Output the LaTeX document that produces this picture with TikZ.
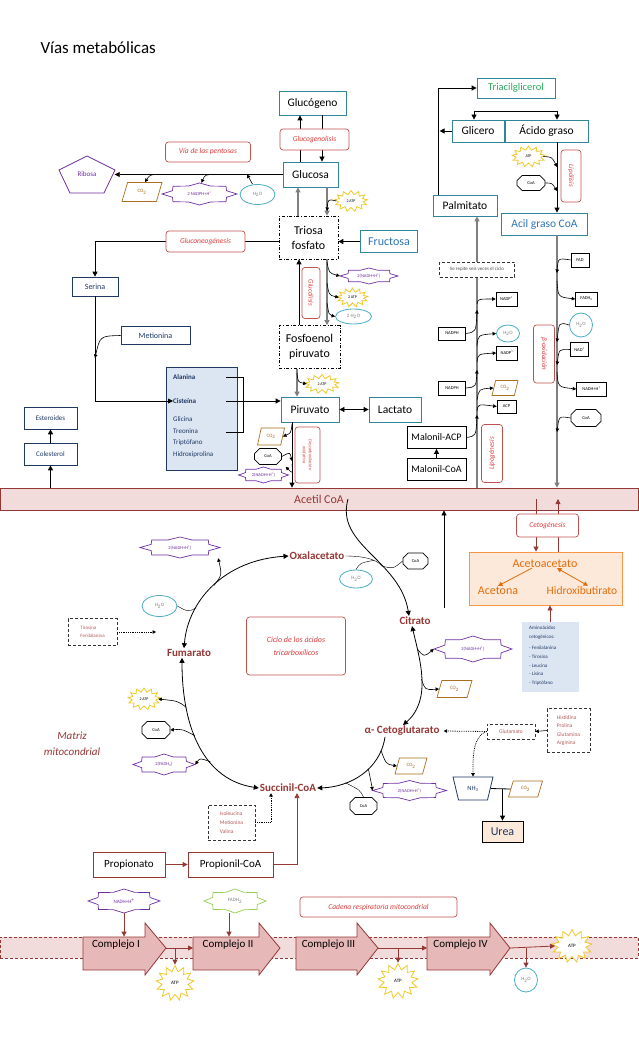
\documentclass[tikz,border=0pt]{standalone}
\usepackage{fontspec}
\setmainfont{Carlito}
\usetikzlibrary{shapes.geometric,shapes.misc,shapes.symbols,arrows.meta,calc}

\definecolor{teal1}{RGB}{49,133,155}
\definecolor{dred}{RGB}{149,55,53}
\definecolor{lred}{RGB}{222,60,60}
\definecolor{lbord}{RGB}{192,80,77}
\definecolor{purp}{RGB}{112,48,160}
\definecolor{cyan1}{RGB}{75,172,198}
\definecolor{brown1}{RGB}{170,110,30}
\definecolor{gold1}{RGB}{240,200,40}
\definecolor{navy1}{RGB}{31,56,100}
\definecolor{blue1}{RGB}{46,117,182}
\definecolor{green1}{RGB}{40,170,90}
\definecolor{lblue}{RGB}{220,230,242}
\definecolor{pink1}{RGB}{242,220,219}
\definecolor{cpx}{RGB}{230,185,184}
\definecolor{orng}{RGB}{247,150,70}
\definecolor{orngt}{RGB}{228,108,10}
\definecolor{peach}{RGB}{253,233,217}
\definecolor{gray1}{RGB}{127,127,127}
\definecolor{lgreen}{RGB}{146,208,80}
\definecolor{ptxt}{RGB}{180,90,90}

\newcommand\fsz[1]{\fontsize{#1}{#1}\selectfont}
\newcommand\seal[4]{\draw[#4, line width=0.7pt] ($(#1)+(#2,0)$)
  \foreach \k in {1,...,15}{ -- ($(#1)+({#2*cos(\k*22.5)*(1-0.22*mod(\k,2))},{#3*sin(\k*22.5)*(1-0.22*mod(\k,2))})$)} -- cycle;}

\tikzset{
  box/.style={draw=teal1, line width=0.8pt, inner sep=0pt, font=\fsz{11.5}},
  bbox/.style={draw=dred, line width=0.8pt, inner sep=0pt, font=\fsz{10}},
  dbox/.style={draw=black, dash dot, line width=0.7pt, align=center, inner sep=0pt, font=\fontsize{12}{15}\selectfont},
  nbox/.style={draw=navy1, line width=0.7pt, text=navy1, inner sep=0pt, font=\fsz{8}},
  lab/.style={draw=lbord, rounded corners=3pt, line width=0.7pt, fill=white, text=lred, font=\fsz{7.5}\itshape, inner sep=0pt, align=center},
  tbox/.style={draw, line width=0.6pt, inner sep=0pt, font=\fsz{4.5}},
  co2/.style={trapezium, trapezium left angle=70, trapezium right angle=110, trapezium stretches=true, draw=brown1, fill=white, text=brown1, line width=0.7pt, font=\fsz{5}, inner sep=0pt},
  wat/.style={ellipse, draw=cyan1, fill=white, line width=0.8pt, text=gray1, font=\fsz{5}, inner sep=0pt},
  coa/.style={chamfered rectangle, chamfered rectangle xsep=4pt, chamfered rectangle ysep=4pt, draw, fill=white, line width=0.7pt, font=\fsz{4.5}, inner sep=0pt},
  atp/.style={starburst, starburst points=13, starburst point height=4pt, random starburst=0, draw=gold1, fill=white, line width=0.8pt, font=\fsz{4}, inner sep=0pt},
  sealtxt/.style={inner sep=0pt, font=\fsz{4.5}, text=purp},
  tca/.style={text=dred, font=\fsz{11}\bfseries, inner sep=1pt},
  dashbox/.style={draw=black!80, densely dashed, line width=0.5pt, text=ptxt, font=\fsz{5.5}, align=left, inner sep=0pt},
  cplx/.style={draw=dred, fill=cpx, line width=0.8pt},
  arr/.style={line width=0.8pt, -{Triangle[length=5pt,width=5pt]}},
  arr2/.style={line width=0.8pt, {Triangle[length=5pt,width=5pt]}-{Triangle[length=5pt,width=5pt]}},
  garr/.style={draw=gray1, line width=1.6pt, -{Triangle[length=5pt,width=5pt]}},
  sarr/.style={line width=0.6pt, -{Triangle[length=3.5pt,width=3.5pt]}},
  dotarr/.style={densely dotted, line width=0.8pt, -{Triangle[length=3.5pt,width=3.5pt]}},
  rarr/.style={draw=dred, line width=0.8pt, -{Triangle[length=5pt,width=5pt]}},
  oarr/.style={draw=orngt, line width=0.8pt, -{Triangle[length=4.5pt,width=4.5pt]}},
  oarr2/.style={draw=orngt, line width=0.8pt, {Triangle[length=4.5pt,width=4.5pt]}-{Triangle[length=4.5pt,width=4.5pt]}}
}

\begin{document}
\begin{tikzpicture}[x=1pt,y=-1pt]
\useasboundingbox[fill=white] (0,0) rectangle (638,1051);

\node[anchor=west, font=\fsz{17}] (title) at (37,48) {Vías metabólicas};

\foreach \n/\x/\y in {p1/162/174.5, p2/218/174.5, p3/247/174.5, q1/327/211, g1/327/262, g2/327/283, g3/327/303,
  g4/297/373, g5/292/424, g6/292/461, g7/292/464, m1/95/358, l1/557/167, l2/557/191,
  b1/557/273, b2/557/281, b3/557/342, b4/557/365, b5/557/372, b6/557/432,
  k1/477/415, k2/477/411, k3/477/370, k4/477/362, k5/477/346, k6/477/310, k7/477/304, k8/477/400,
  tf/156/632, cu/444/608}
  \coordinate (\n) at (\x,\y);

\node[draw=dred, fill=pink1, line width=0.8pt, minimum width=638pt, minimum height=22pt, inner sep=0pt, text=dred, font=\fsz{12}] (acoa) at (319,499) {Acetil CoA};

\node[box, minimum width=67pt, minimum height=24pt] (glucogeno) at (312.5,103) {Glucógeno};
\node[box, minimum width=55pt, minimum height=25pt] (glucosa) at (310.5,174.5) {Glucosa};
\node[dbox, minimum width=59pt, minimum height=43pt] (triosa) at (308.5,237.5) {Triosa\\fosfato};
\node[box, minimum width=57pt, minimum height=22pt, text=blue1, font=\fsz{12}] (fructosa) at (389,241.5) {Fructosa};
\node[dbox, minimum width=61pt, minimum height=43pt] (fosfo) at (309.5,347) {Fosfoenol\\piruvato};
\node[box, minimum width=58pt, minimum height=25pt] (piruvato) at (310,409.5) {Piruvato};
\node[box, minimum width=52pt, minimum height=25pt] (lactato) at (395,409.5) {Lactato};

\draw[arr] ([xshift=-10.5pt]glucosa.north) -- ([xshift=-10.5pt]glucosa.north |- glucogeno.south);
\draw[arr] ([xshift=9.5pt]glucogeno.south) -- ([xshift=9.5pt]glucogeno.south |- glucosa.north);
\node[lab, minimum width=69pt, minimum height=21pt] (glgl) at (314.5,139.5) {Glucogenolisis};

\node[font=\fsz{7}, text=purp, minimum width=55pt, inner sep=0pt] (ribosa) at (87,174.5) {Ribosa};
\draw[purp, line width=0.8pt] (87,156) -- (115,170) -- (104,193) -- (70,193) -- (59,170) -- cycle;
\draw[arr] (glucosa.west) -- (ribosa.east);
\node[lab, minimum width=85pt, minimum height=20pt] (pentosas) at (208,152) {Vía de las pentosas};
\node[co2, minimum width=40pt, minimum height=19pt] (co2a) at (142,192) {CO\textsubscript{2}};
\node[sealtxt, minimum width=75pt, minimum height=22pt] (nadpha) at (199.5,194) {2 NADPH+H\textsuperscript{+}};
\seal{nadpha}{37.5}{11}{purp}
\node[wat, minimum width=35pt, minimum height=20pt] (h2oa) at (257.5,194.5) {H\textsubscript{2}O};
\draw[sarr] (p1) .. controls (150,174.5) .. ([xshift=3pt]co2a.north);
\draw[sarr] (p2) .. controls (205,174.5) .. ([xshift=2pt]nadpha.north);
\draw[sarr] ([xshift=-5pt]h2oa.north) .. controls (251,181) .. (p3);

\draw[garr] ([xshift=16.5pt]glucosa.south) -- ([xshift=16.5pt]glucosa.south |- triosa.north);
\draw[garr] ([xshift=-10.5pt]triosa.north) -- ([xshift=-10.5pt]triosa.north |- glucosa.south);
\node[atp, minimum width=33pt, minimum height=21pt] (atpa) at (351,201) {2 ATP};
\draw[sarr] (atpa.west) .. controls (328,199) .. (q1);
\draw[arr] (fructosa.west) -- (fructosa.west -| triosa.east);

\node[nbox, minimum width=46pt, minimum height=19pt] (serina) at (95,286.5) {Serina};
\draw[arr] (triosa.west |- fructosa.west) -| (serina.north);
\node[lab, minimum width=79pt, minimum height=21pt] (gng) at (205.5,241.5) {Gluconeogénesis};
\node[nbox, minimum width=69pt, minimum height=18pt] (metionina) at (155.5,335.5) {Metionina};
\draw[sarr] (metionina.west) .. controls (100,336) .. (m1);

\node[draw=navy1, fill=lblue, line width=0.7pt, minimum width=71pt, minimum height=103pt] (aabox) at (201.5,418.5) {};
\begin{scope}[every node/.style={anchor=west, text=navy1, font=\fsz{7}, inner sep=0pt}]
\node[font=\fsz{7}\bfseries] (alan) at (173,377) {Alanina};
\node[font=\fsz{7}\bfseries] (cist) at (173,401) {Cisteína};
\node (glic) at (173,419) {Glicina};
\node (treo) at (173,431) {Treonina};
\node (trip) at (173,443) {Triptófano};
\node (hidr) at (173,455) {Hidroxiprolina};
\end{scope}
\draw[arr] (serina.south) |- (cist.west);
\draw[line width=0.8pt] (226,377) -- (243,377) -- (243,432) -- (226,432);
\draw[arr] (226,401) -- (piruvato.west |- cist);

\draw[arr] ([xshift=-10.5pt]fosfo.north) -- ([xshift=-10.5pt]fosfo.north |- triosa.south);
\draw[garr] ([xshift=18.5pt]triosa.south) -- ([xshift=18.5pt]triosa.south |- fosfo.north);
\node[lab, rotate=-90, minimum width=51pt, minimum height=18pt, font=\fsz{7}\itshape] (glc) at (311,293) {Glucólisis};
\node[sealtxt, minimum width=58pt, minimum height=16pt] (nadhb) at (369,276) {2(NADH+H\textsuperscript{+})};
\seal{nadhb}{29}{8}{purp}
\node[atp, minimum width=31pt, minimum height=19pt] (atpb) at (352.5,297.5) {2 ATP};
\node[wat, minimum width=36pt, minimum height=15pt] (h2ob) at (353.5,316.5) {2 H\textsubscript{2}O};
\draw[sarr] (g1) .. controls (329,273) .. (nadhb.west);
\draw[sarr] (g2) .. controls (329,295) .. (atpb.west);
\draw[sarr] (g3) .. controls (329,315) .. (h2ob.west);

\draw[garr] ([xshift=-12.5pt]fosfo.south) -- ([xshift=-12.5pt]fosfo.south |- piruvato.north);
\node[atp, minimum width=34pt, minimum height=19pt] (atpc) at (322,384) {2 ATP};
\draw[sarr] (g4) .. controls (298,382) .. (atpc.west);
\draw[arr2] (piruvato.east) -- (lactato.west);

\draw[arr] ([xshift=-18pt]piruvato.south) -- ([xshift=-18pt]piruvato.south |- acoa.north);
\node[co2, minimum width=27pt, minimum height=17pt] (co2b) at (271,436.5) {CO\textsubscript{2}};
\node[coa, minimum width=27pt, minimum height=16pt] (coab) at (268,456.5) {CoA};
\node[sealtxt, minimum width=50pt, minimum height=16pt] (nadhc) at (263.5,475) {2(NADH+H\textsuperscript{+})};
\seal{nadhc}{25}{8}{purp}
\draw[sarr] (g5) .. controls (291,433) .. (co2b.east);
\draw[sarr] (coab.east) .. controls (290,452) .. (g6);
\draw[sarr] (g7) .. controls (293,474) .. ([xshift=-3pt]nadhc.north east);
\node[lab, rotate=-90, minimum width=56pt, minimum height=25pt, font=\fontsize{4.5}{6}\selectfont\itshape] (desc) at (307.5,455) {Descarboxilación\\oxidativa};

\node[nbox, minimum width=53pt, minimum height=22pt, font=\fsz{7}] (esteroides) at (50.5,418) {Esteroides};
\node[nbox, minimum width=53pt, minimum height=22pt, font=\fsz{7}] (colesterol) at (50.5,454) {Colesterol};
\draw[arr] (colesterol.north) -- (esteroides.south);
\draw[arr] (colesterol.south |- acoa.north) -- (colesterol.south);

\node[box, minimum width=78pt, minimum height=20pt, text=green1, font=\fsz{10.5}] (tag) at (516,88) {Triacilglicerol};
\node[box, minimum width=52pt, minimum height=22pt] (glicero) at (478,131) {Glicero};
\node[box, minimum width=83pt, minimum height=22pt] (acido) at (546.5,131) {Ácido graso};
\node[box, minimum width=64pt, minimum height=21pt] (palm) at (465,205.5) {Palmitato};
\draw[arr] (tag.south) ++(0,13) -| ([xshift=-4pt]glicero.north);
\draw[arr] (tag.south) ++(0,13) -| ([xshift=10.5pt]acido.north);
\draw[arr] ([xshift=-27pt]palm.north) |- (tag.west);
\draw[arr] (glicero.west) -- ([xshift=-12pt]glicero.west);

\node[box, minimum width=86pt, minimum height=22pt, text=blue1] (acil) at (544.5,224) {Acil graso CoA};
\draw[arr] ([xshift=10.5pt]acido.south) -- ([xshift=10.5pt]acido.south |- acil.north);
\node[atp, minimum width=33pt, minimum height=21pt] (atpd) at (528.5,156.5) {ATP};
\node[coa, minimum width=28pt, minimum height=15pt] (coad) at (531,183) {CoA};
\draw[sarr] (atpd.east) .. controls (552,157) .. (l1);
\draw[sarr] (coad.east) .. controls (552,183) .. (l2);
\node[lab, rotate=-90, minimum width=52pt, minimum height=20pt, font=\fsz{7}\itshape] (lipol) at (571,176) {Lipólisis};

\draw[garr] ([xshift=12.5pt]acil.south) -- ([xshift=12.5pt]acil.south |- acoa.north);
\node[tbox, minimum width=18pt, minimum height=14pt] (fad) at (580,260) {FAD};
\node[tbox, minimum width=22pt, minimum height=14pt] (fadh) at (586.5,299) {FADH\textsubscript{2}};
\node[wat, minimum width=23pt, minimum height=24pt] (h2oc) at (581,325) {H\textsubscript{2}O};
\node[tbox, minimum width=18pt, minimum height=14pt] (nad) at (579.5,349.5) {NAD\textsuperscript{+}};
\node[tbox, minimum width=30pt, minimum height=14pt] (nadhd) at (591.5,389) {NADH+H\textsuperscript{+}};
\node[coa, minimum width=30pt, minimum height=17pt] (coae) at (586,418) {CoA};
\draw[sarr] (fad.west) .. controls (558,258) .. (b1);
\draw[sarr] (b2) .. controls (558,297) .. (fadh.west);
\draw[sarr] (h2oc.west) .. controls (559,322) .. (b3);
\draw[sarr] (nad.west) .. controls (559,349) .. (b4);
\draw[sarr] (b5) .. controls (558,387) .. (nadhd.west);
\draw[sarr] (coae.west) .. controls (559,416) .. (b6);
\node[lab, rotate=-90, minimum width=58pt, minimum height=21pt, font=\fsz{7}\itshape] (betaox) at (544,354) {β-oxidación};

\draw[garr] ([xshift=12pt]palm.south |- acoa.north) -- ([xshift=12pt]palm.south);
\node[dashbox, fill=white, text=black!70, minimum width=75pt, minimum height=15pt, font=\fsz{5}] (repite) at (477,269.5) {Se repite seis veces el ciclo};
\node[tbox, minimum width=21pt, minimum height=14pt] (nadp1) at (506.5,299) {NADP\textsuperscript{+}};
\node[tbox, minimum width=27pt, minimum height=13pt] (nadph1) at (452,333.5) {NADPH};
\node[wat, minimum width=23pt, minimum height=17pt] (h2od) at (508,333.5) {H\textsubscript{2}O};
\node[tbox, minimum width=21pt, minimum height=14pt] (nadp2) at (507,353) {NADP\textsuperscript{+}};
\node[tbox, minimum width=27pt, minimum height=14pt] (nadph2) at (452,388) {NADPH};
\node[co2, minimum width=26pt, minimum height=15pt] (co2c) at (505,388) {CO\textsubscript{2}};
\node[tbox, minimum width=19pt, minimum height=13pt] (acp) at (506.5,406.5) {ACP};
\node[bbox, draw=black, minimum width=59pt, minimum height=22pt] (macp) at (436.5,437.5) {Malonil-ACP};
\node[bbox, draw=black, minimum width=59pt, minimum height=22pt] (mcoa) at (436.5,469.5) {Malonil-CoA};
\draw[arr] (mcoa.north) -- (macp.south);
\draw[sarr] (macp.east) .. controls (476,436) .. (k1);
\draw[sarr] (k2) .. controls (478,404) .. (acp.west);
\draw[sarr] (k8) .. controls (479,389) .. (co2c.west);
\draw[sarr] (nadph2.east) .. controls (476,387) .. (k3);
\draw[sarr] (k4) .. controls (478,354) .. (nadp2.west);
\draw[sarr] (k5) .. controls (478,335) .. (h2od.west);
\draw[sarr] (nadph1.east) .. controls (476,332) .. (k6);
\draw[sarr] (k7) .. controls (478,299) .. (nadp1.west);
\node[lab, rotate=90, minimum width=58pt, minimum height=21pt, font=\fsz{7}\itshape] (lipog) at (492,453.5) {Lipogénesis};

\node[sealtxt, minimum width=80pt, minimum height=21pt] (nadhe) at (180,547.5) {2(NADH+H\textsuperscript{+})};
\seal{nadhe}{40}{10.5}{purp}
\node[tca] (oxa) at (317,556) {Oxalacetato};
\node[tca] (fum) at (189,653) {Fumarato};
\node[tca] (cit) at (415,621) {Citrato};
\node[tca] (akg) at (402,731) {α- Cetoglutarato};
\node[tca] (suc) at (288,788) {Succinil-CoA};
\node[wat, minimum width=35pt, minimum height=21pt] (h2oe) at (159.5,606) {H\textsubscript{2}O};
\node[dashbox, minimum width=49pt, minimum height=27pt, font=\fontsize{5}{8}\selectfont] (tirfen) at (92.5,632) {Tirosina\\Fenilalanina};
\draw[dotarr] (tirfen.east) -- (tf);
\node[lab, minimum width=99pt, minimum height=58pt, font=\fontsize{8}{13}\selectfont\itshape] (ciclo) at (296,646) {Ciclo de los ácidos\\tricarboxílicos};

\draw[arr2] ([xshift=-5pt]fum.north) .. controls (188,600) and (225,560) .. (oxa.west) coordinate[pos=0.3] (fo1) coordinate[pos=0.5] (fo2);
\draw (h2oe.east) .. controls (188,612) .. (fo1);
\draw[sarr] (fo2) .. controls (222,575) .. ([xshift=-2pt]nadhe.south east);

\draw[arr] ([xshift=29pt]acoa.center) .. controls (335,545) and (400,560) .. ([xshift=-6pt]cit.north) coordinate[pos=0.62] (om);
\draw (oxa.east) .. controls (368,556) and (378,561) .. (om) coordinate[pos=0.6] (om2);
\node[coa, minimum width=25pt, minimum height=16pt] (coaf) at (415.5,561) {CoA};
\node[wat, minimum width=33pt, minimum height=18pt] (h2of) at (356,579) {H\textsubscript{2}O};
\draw (om) .. controls (393,569) .. (coaf.west);
\draw (h2of.north) .. controls (360,563) .. (om2);
\draw[arr] (cu) -- (cu |- acoa.south);

\node[draw=orng, fill=peach, line width=0.8pt, minimum width=153pt, minimum height=53pt] (keto) at (545.5,578.5) {};
\draw[rarr] ([xshift=-9.5pt]keto.north |- acoa.center) -- ([xshift=-9.5pt]keto.north);
\draw[rarr] ([xshift=12.5pt]keto.north) -- ([xshift=12.5pt]keto.north |- acoa.center);
\node[lab, minimum width=62pt, minimum height=23pt] (ceto) at (547.5,525.5) {Cetogénesis};
\node[text=orngt, font=\fsz{12}, inner sep=0pt] (acac) at (545,564) {Acetoacetato};
\node[text=orngt, font=\fsz{12}, inner sep=0pt] (acetona) at (498,591) {Acetona};
\node[text=orngt, font=\fsz{11.5}, inner sep=0pt] (hbut) at (582,591) {Hidroxibutirato};
\draw[oarr] ([xshift=-13pt]acac.south) -- ([yshift=1pt]acetona.north);
\draw[oarr2] ([xshift=12pt]acac.south) -- ([xshift=6pt,yshift=1pt]hbut.north);
\node[fill=lblue, minimum width=57pt, minimum height=70pt] (aac) at (550,657) {};
\node[anchor=north west, align=left, text=navy1, font=\fontsize{5}{8.6}\selectfont, inner sep=0pt] (aact) at (529,626) {Aminoácidos\\cetogénicos:\\[3pt]- Fenilalanina\\- Tirosina\\- Leucina\\- Lisina\\- Triptófano};
\draw[rarr] (aac.north) -- (aac.north |- keto.south);

\node[sealtxt, minimum width=78pt, minimum height=26pt] (nadhf) at (473,649) {2(NADH+H\textsuperscript{+})};
\seal{nadhf}{39}{13}{purp}
\node[co2, minimum width=35pt, minimum height=17pt] (co2d) at (454.5,689) {CO\textsubscript{2}};
\draw[arr2] ([xshift=-3pt]cit.south) .. controls (420,660) and (432,700) .. ([xshift=1pt]akg.north) coordinate[pos=0.22] (ca1) coordinate[pos=0.5] (ca2);
\draw[sarr] (ca1) .. controls (424,657) .. (nadhf.west);
\draw[sarr] (ca2) .. controls (425,690) .. (co2d.west);

\node[dashbox, minimum width=48pt, minimum height=15pt] (glut) at (511,731.5) {Glutamato};
\node[dashbox, minimum width=43pt, minimum height=44pt, font=\fontsize{5.5}{8.4}\selectfont] (hist) at (568.5,730.5) {Histidina\\Prolina\\Glutamina\\Arginina};
\draw[sarr] (hist.west) -- (glut.east);
\draw[dotarr] (glut.west) -- ([xshift=3pt]akg.east);
\node[trapezium, trapezium left angle=68, trapezium right angle=68, shape border rotate=180, trapezium stretches=true, draw=navy1, fill=white, line width=0.8pt, minimum width=40pt, minimum height=23pt, text=navy1, font=\fsz{6.5}, inner sep=0pt] (nh3) at (473,788.5) {NH\textsubscript{3}};
\draw[dotarr] (glut.west) .. controls (472,736) and (473,760) .. (nh3.north);
\node[co2, minimum width=34pt, minimum height=16pt] (co2e) at (525.5,789) {CO\textsubscript{2}};
\node[draw=black, fill=peach, line width=0.8pt, minimum width=41pt, minimum height=21pt, text=navy1, font=\fsz{12}, inner sep=0pt] (urea) at (502.5,831.5) {Urea};
\draw[line width=0.8pt] (nh3.east) -- (co2e.west);
\draw[arr] (co2e.west -| urea.north) -- (urea.north);

\draw[arr] ([xshift=-17pt]akg.south) .. controls (380,770) and (350,787) .. (suc.east) coordinate[pos=0.15] (sa1) coordinate[pos=0.4] (sa2) coordinate[pos=0.7] (sa3);
\node[co2, minimum width=32pt, minimum height=16pt] (co2f) at (411,766) {CO\textsubscript{2}};
\node[sealtxt, minimum width=74pt, minimum height=20pt] (nadhg) at (409.5,790.5) {2(NADH+H\textsuperscript{+})};
\seal{nadhg}{37}{10}{purp}
\node[coa, minimum width=27pt, minimum height=17pt] (coag) at (363.5,806) {CoA};
\draw[sarr] (sa1) .. controls (386,764) .. (co2f.west);
\draw[sarr] (sa2) .. controls (372,787) .. (nadhg.west);
\draw (coag.north) .. controls (360,790) .. (sa3);

\draw[arr2] ([xshift=-7pt]fum.south) .. controls (182,730) and (205,780) .. (suc.west) coordinate[pos=0.25] (sf1) coordinate[pos=0.42] (sf2) coordinate[pos=0.62] (sf3);
\node[atp, minimum width=32pt, minimum height=22pt] (atpe) at (144,699) {2 ATP};
\node[coa, minimum width=28pt, minimum height=17pt] (coah) at (156,730) {CoA};
\node[sealtxt, minimum width=62pt, minimum height=21pt] (fadhe) at (164,764.5) {2(FADH\textsubscript{2})};
\seal{fadhe}{31}{10.5}{purp}
\draw[sarr] (sf1) .. controls (178,701) .. (atpe.east);
\draw[sarr] (sf2) .. controls (182,729) .. (coah.east);
\draw[sarr] (sf3) .. controls (200,758) .. (fadhe.east);

\node[text=dred, font=\fontsize{11}{16}\selectfont\itshape, align=center] (matriz) at (72,744) {Matriz\\mitocondrial};
\node[dashbox, minimum width=47pt, minimum height=35pt, font=\fontsize{5.5}{9}\selectfont] (ile) at (231.5,822.5) {Isoleucina\\Metionina\\Valina};
\draw[dotarr] (ile.east) -| ([xshift=-17pt]suc.south);
\node[bbox, minimum width=72pt, minimum height=25pt, font=\fsz{11}] (prop) at (129,864.5) {Propionato};
\node[bbox, minimum width=85pt, minimum height=25pt, font=\fsz{11}] (propc) at (230.5,864.5) {Propionil-CoA};
\draw[rarr] (prop.east) -- (propc.west);
\draw[rarr] (propc.east) -| ([xshift=9pt]suc.south);

\node[draw=dred, densely dashed, fill=pink1, line width=0.8pt, minimum width=638pt, minimum height=21pt, inner sep=0pt] (band) at (319,947.5) {};
\node[sealtxt, minimum width=72pt, minimum height=24pt, font=\fsz{5}] (nadhh) at (124,901) {NADH+H\textsuperscript{+}};
\seal{nadhh}{36}{12}{purp}
\node[sealtxt, text=gray1, minimum width=62pt, minimum height=24pt, font=\fsz{5}] (fadhf) at (235,901) {FADH\textsubscript{2}};
\seal{fadhf}{31}{12}{lgreen}
\node[lab, minimum width=157pt, minimum height=20pt] (cadena) at (378.5,907) {Cadena respiratoria mitocondrial};
\foreach \n/\a/\b/\c/\t in {c1/83/145/166/Complejo I, c2/193/259/280/Complejo II, c3/296/357/378/Complejo III, c4/427/490/510/Complejo IV}{
  \draw[cplx] (\a,937) -- (\b,937) -- (\b,923) -- (\c,948) -- (\b,975) -- (\b,970) -- (\a,970) -- cycle;
  \node[font=\fsz{11}, inner sep=0pt] (\n) at ({(\a+\b)/2+2},945) {\t};
  \coordinate (\n tip) at (\c,948);
  \coordinate (\n tail) at (\a,948);
}
\draw[rarr] (nadhh.south) -- (nadhh.south |- band.north);
\draw[rarr] ([xshift=-6pt]fadhf.south) -- ([xshift=-6pt]fadhf.south |- band.north);
\node[atp, minimum width=38pt, minimum height=35pt, starburst point height=6pt, font=\fsz{5}] (atpf) at (175,983) {ATP};
\node[atp, minimum width=40pt, minimum height=35pt, starburst point height=6pt, font=\fsz{5}] (atpg) at (398,981) {ATP};
\node[atp, minimum width=40pt, minimum height=33pt, starburst point height=6pt, font=\fsz{5}] (atph) at (572,946) {ATP};
\node[wat, minimum width=23pt, minimum height=24pt] (h2oh) at (526,980) {H\textsubscript{2}O};
\draw[rarr] (c1tip) -- (c2tail);
\draw[rarr] (atpf.north |- c1tip) -- (atpf.north);
\draw[rarr] (c3tip) -- (c4tail);
\draw[rarr] (atpg.north |- c3tip) -- (atpg.north);
\draw[rarr] (c4tip) -- (atph.west);
\draw[rarr] (h2oh.north |- c4tip) -- (h2oh.north);
\end{tikzpicture}
\end{document}
